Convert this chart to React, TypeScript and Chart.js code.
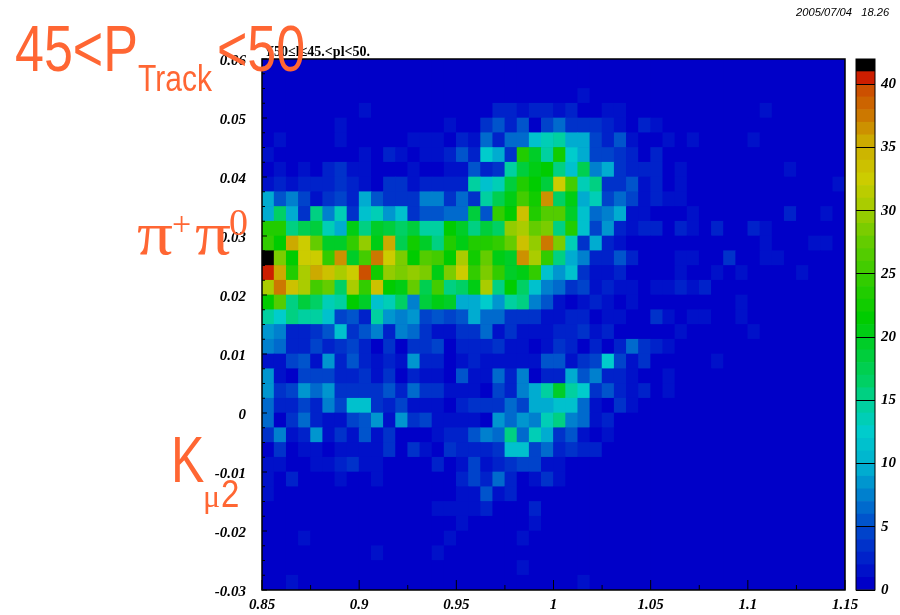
import React, { useEffect, useRef } from "react";
import { Chart, registerables } from "chart.js";

Chart.register(...registerables);

const Z = [0, 0, 0, 0, 0, 0, 0, 0, 0, 0, 0, 0, 0, 0, 0, 0];
const xBinCount = 48;
const xMin = 0.85;
const xMax = 1.15;
const yMin = -0.03;
const yMax = 0.06;
const zMax = 42;
const colorLevels = 42;

// Counts per cell, rows from the top of the plot (y = 0.06) to the bottom.
const cellRows: number[][] = [
  [...Z, ...Z, ...Z],
  [...Z, ...Z, ...Z],
  [0,0,0,0,0,0,0,0,0,0,0,0,0,0,0,0,0,0,0,0,0,0,0,0,0,0,1,0,0,0,0,0,0,0,0,0,0,0,0,0,0,0,0,0,0,0,0,0],
  [0,0,0,0,0,0,0,0,1,0,0,0,0,0,0,0,0,0,0,2,2,1,2,2,1,2,0,0,1,1,0,0,0,0,0,0,0,0,0,0,0,1,0,0,0,0,0,0],
  [0,0,0,0,0,0,1,0,0,0,0,0,0,0,0,1,0,0,3,5,2,5,0,4,6,3,3,3,2,1,0,2,1,0,0,0,0,0,0,0,0,0,0,0,0,0,0,0],
  [0,1,0,0,0,0,1,0,0,0,0,0,1,1,1,0,2,1,6,2,6,6,11,13,14,9,9,4,2,5,1,0,0,1,0,1,0,0,0,0,1,0,0,0,0,0,0,0],
  [1,0,0,0,0,0,0,0,1,0,2,1,0,1,1,2,5,2,12,9,3,23,19,14,22,12,9,4,4,3,2,0,2,0,0,0,0,0,0,0,0,0,0,0,0,0,0,0],
  [0,1,0,1,0,2,3,1,1,0,0,0,1,0,0,1,1,5,2,3,14,18,20,21,15,11,17,7,9,3,2,2,2,0,1,0,0,0,0,0,0,0,0,1,0,0,0,0],
  [1,2,1,2,2,2,3,2,1,0,3,3,1,2,2,2,2,14,11,13,18,23,21,18,32,25,13,15,3,3,5,1,2,0,1,0,0,0,0,0,0,0,0,0,0,0,0,1],
  [9,5,7,4,1,3,4,2,9,5,3,3,3,7,7,3,6,3,14,17,20,25,22,36,16,20,9,13,4,6,4,1,2,1,1,0,0,0,0,0,0,0,0,0,0,0,0,0],
  [9,16,9,3,15,7,13,3,11,13,8,11,3,5,5,6,6,18,5,24,21,33,23,26,26,19,11,6,7,9,1,1,0,0,0,1,0,0,0,0,0,0,0,2,0,0,1,0],
  [23,23,15,17,18,13,9,20,15,19,18,16,18,14,14,21,19,15,18,16,29,30,27,28,15,23,11,4,8,2,1,2,2,0,2,1,0,2,0,0,2,1,0,0,0,0,0,0],
  [24,21,35,32,27,19,19,24,29,20,35,17,22,19,15,23,20,23,23,24,27,33,29,37,28,13,3,9,2,1,0,0,0,0,0,0,0,0,0,0,0,1,0,0,0,1,1,0],
  [41,28,21,32,32,24,36,19,25,37,32,28,21,26,25,21,30,22,27,20,19,36,30,24,15,9,7,2,2,5,2,0,0,0,1,1,0,0,3,0,0,1,1,0,0,0,0,0],
  [40,35,23,30,35,33,30,32,39,22,29,28,29,28,20,28,32,24,28,24,19,20,24,11,8,11,3,1,1,2,0,0,0,0,1,0,0,1,0,1,0,0,0,0,1,0,0,0],
  [30,37,33,30,25,27,16,30,24,33,21,20,27,17,25,15,16,20,30,15,21,16,11,7,6,3,4,1,2,1,1,0,1,1,2,1,2,0,0,0,0,0,0,0,0,0,0,0],
  [21,26,15,18,16,13,14,21,19,11,13,16,7,18,20,19,9,9,12,8,14,15,7,5,1,0,1,2,1,0,1,0,0,0,0,0,0,0,0,1,0,0,0,0,0,0,0,0],
  [14,12,15,14,14,11,4,5,2,14,8,7,8,4,5,4,5,9,6,6,3,3,3,1,1,2,2,0,1,1,0,0,3,1,0,1,1,0,0,1,0,0,0,0,0,0,0,0],
  [8,7,2,2,3,5,11,3,5,7,2,7,6,3,1,1,3,3,6,1,3,1,1,1,2,2,3,1,2,0,0,0,0,0,1,0,0,0,0,0,1,0,0,0,0,0,0,0],
  [7,6,2,2,4,2,3,4,2,0,3,0,3,3,4,0,2,2,2,3,1,1,0,1,3,2,0,2,0,2,6,3,2,1,0,0,0,0,0,0,0,0,0,0,0,0,0,0],
  [1,1,4,5,1,8,2,5,2,1,2,1,8,2,2,0,1,2,1,1,1,1,1,5,5,1,3,4,12,4,1,3,0,0,0,0,0,1,0,0,0,0,0,0,0,0,0,0],
  [8,1,0,4,4,4,2,2,3,1,3,0,2,1,1,0,5,1,1,6,2,7,0,2,2,9,5,7,2,2,1,0,0,1,0,0,0,0,0,0,0,0,0,0,0,0,0,0],
  [8,3,4,8,6,8,3,3,3,3,5,2,6,3,3,1,1,1,0,4,2,7,9,14,19,14,12,3,5,2,1,2,0,1,0,0,0,0,0,0,0,0,0,0,0,0,0,0],
  [6,2,2,4,2,7,4,11,11,3,2,4,1,1,1,0,2,3,3,3,6,4,9,9,11,11,6,1,0,3,1,0,0,0,0,0,0,0,0,0,0,0,0,0,0,0,0,0],
  [6,0,3,6,2,1,1,4,5,8,1,8,3,4,1,1,1,1,0,8,6,8,7,13,15,7,6,1,2,0,0,0,0,0,0,0,0,0,0,0,0,0,0,0,0,0,0,0],
  [3,7,1,2,8,1,3,1,5,1,3,0,0,0,1,2,2,5,7,6,15,6,13,9,3,5,1,0,1,0,0,0,0,0,0,0,0,0,0,0,0,0,0,0,0,0,0,0],
  [0,3,0,1,1,0,1,1,1,1,3,0,3,1,0,3,2,2,2,3,11,11,4,6,2,3,2,2,0,0,0,0,0,0,0,0,0,0,0,0,0,0,0,0,0,0,0,0],
  [1,1,0,0,1,1,2,3,1,1,0,0,0,0,2,0,1,4,1,2,3,4,4,1,1,0,0,0,0,0,0,0,0,0,0,0,0,0,0,0,0,0,0,0,0,0,0,0],
  [1,0,2,0,0,0,1,0,0,1,0,0,0,0,0,0,2,4,2,6,2,0,1,3,1,0,0,0,0,0,0,0,0,0,0,0,0,0,0,0,0,0,0,0,0,0,0,0],
  [1,0,0,0,0,0,0,0,0,0,0,0,0,0,0,0,1,1,5,1,2,0,0,0,0,0,0,0,0,0,0,0,0,0,0,0,0,0,0,0,0,0,0,0,0,0,0,0],
  [0,0,0,0,0,0,0,0,0,0,0,0,0,0,1,1,1,1,2,0,0,0,2,0,0,0,0,0,0,0,0,0,0,0,0,0,0,0,0,0,0,0,0,0,0,0,0,0],
  [0,0,0,0,0,0,0,0,0,0,0,0,0,0,0,0,1,0,0,0,0,0,1,0,0,0,0,0,0,0,0,0,0,0,0,0,0,0,0,0,0,0,0,0,0,0,0,0],
  [0,0,0,1,0,0,0,0,0,0,0,0,0,0,0,1,0,0,0,0,0,1,0,0,0,0,0,0,0,0,0,0,0,0,0,0,0,0,0,0,0,0,0,0,0,0,0,0],
  [0,0,0,0,0,0,0,0,0,1,0,0,0,0,1,0,0,0,0,0,0,0,0,0,0,0,0,0,0,0,0,0,0,0,0,0,0,0,0,0,0,0,0,0,0,0,0,0],
  [0,0,0,0,0,0,0,0,0,0,0,0,0,0,0,0,0,0,0,0,0,1,0,0,0,0,0,0,0,0,0,0,0,0,0,0,0,0,0,0,0,0,0,0,0,0,0,0],
  [0,0,1,0,0,0,0,0,0,0,0,0,0,0,0,0,0,0,0,0,0,0,0,0,0,0,1,0,0,0,0,0,0,0,0,0,0,0,0,0,0,0,0,0,0,0,0,0],
];

// [level, r, g, b]
const paletteStops: number[][] = [
  [0, 0, 0, 200], [5, 0, 84, 204], [9, 0, 172, 208], [12, 0, 204, 204], [14, 0, 208, 160],
  [16, 0, 208, 100], [18, 0, 206, 60], [21, 0, 204, 0], [24, 50, 204, 0], [27, 100, 204, 0],
  [30, 170, 204, 0], [32, 204, 204, 0], [35, 204, 170, 0], [37, 204, 120, 0], [39, 204, 80, 0],
  [40, 204, 30, 0],
];

function levelColor(level: number): string {
  if (level >= colorLevels - 1) return "#000000";
  for (let i = 1; i < paletteStops.length; i++) {
    const a = paletteStops[i - 1];
    const b = paletteStops[i];
    if (level <= b[0]) {
      const t = (level - a[0]) / (b[0] - a[0]);
      const ch = (k: number) => Math.round(a[k] + (b[k] - a[k]) * t);
      return `rgb(${ch(1)},${ch(2)},${ch(3)})`;
    }
  }
  return "#cc1e00";
}

const tickFont = { family: "'Liberation Serif'", size: 15, weight: "bold", style: "italic" } as any;
const ORANGE = "#ff6633";

export default function App() {
  const mainRef = useRef<HTMLCanvasElement>(null);
  const barRef = useRef<HTMLCanvasElement>(null);

  useEffect(() => {
    const rowCount = cellRows.length;
    const dx = (xMax - xMin) / xBinCount;
    const dy = (yMax - yMin) / rowCount;
    const cells: any[] = [];
    const colors: string[] = [];
    cellRows.forEach((row, r) => {
      row.forEach((v, c) => {
        const lo = yMin + (rowCount - 1 - r) * dy;
        cells.push({ x: xMin + (c + 0.5) * dx, y: [lo, lo + dy] });
        colors.push(levelColor(v));
      });
    });

    const frameAndTicks = {
      id: "frameAndTicks",
      beforeDatasetsDraw(chart: any) {
        const { ctx, chartArea: a } = chart;
        ctx.save();
        ctx.fillStyle = levelColor(0);
        ctx.fillRect(a.left, a.top, a.right - a.left, a.bottom - a.top);
        ctx.restore();
      },
      afterDatasetsDraw(chart: any) {
        const { ctx, chartArea: a, scales } = chart;
        ctx.save();
        ctx.strokeStyle = "#000";
        ctx.lineWidth = 1;
        ctx.beginPath();
        for (let k = 0; k <= 12; k++) {
          const v = xMin + k * 0.025;
          const p = scales.x.getPixelForValue(v);
          const len = k % 2 === 0 ? 10 : 5;
          ctx.moveTo(p, a.bottom);
          ctx.lineTo(p, a.bottom - len);
        }
        for (let k = 0; k <= 36; k++) {
          const v = yMin + k * 0.0025;
          const p = scales.y.getPixelForValue(v);
          const len = k % 4 === 0 ? 5 : 3;
          ctx.moveTo(a.left, p);
          ctx.lineTo(a.left + len, p);
        }
        ctx.stroke();
        ctx.lineWidth = 1.5;
        ctx.strokeRect(a.left, a.top, a.right - a.left, a.bottom - a.top);
        ctx.restore();
      },
    };

    const main = new Chart(mainRef.current!, {
      type: "bar",
      data: {
        datasets: [
          {
            data: cells,
            backgroundColor: colors,
            borderWidth: 0,
            barPercentage: 1,
            categoryPercentage: 1,
            grouped: false,
          } as any,
        ],
      },
      options: {
        responsive: false,
        animation: false,
        layout: { padding: { top: 59, right: 55, left: 0, bottom: 0 } },
        plugins: { legend: { display: false }, tooltip: { enabled: false }, title: { display: false } },
        scales: {
          x: {
            type: "linear",
            min: xMin,
            max: xMax,
            offset: false,
            afterFit: (s: any) => { s.height = 25; },
            grid: { display: false, offset: false },
            border: { display: false },
            ticks: {
              stepSize: 0.05,
              maxRotation: 0,
              autoSkip: false,
              padding: -2,
              color: "#000",
              font: tickFont,
              callback: (v: any) => String(parseFloat(Number(v).toFixed(3))),
            },
          },
          y: {
            type: "linear",
            min: yMin,
            max: yMax,
            afterFit: (s: any) => { s.width = 262; },
            grid: { display: false },
            border: { display: false },
            ticks: {
              stepSize: 0.01,
              autoSkip: false,
              padding: 8,
              color: "#000",
              // A blank first line of 5px nudges each label 2.5px below its tick, as in the reference.
              font: { ...tickFont, lineHeight: "5px" },
              callback: (v: any) => ["", String(parseFloat(Number(v).toFixed(3)))],
            },
          },
        },
      } as any,
      plugins: [frameAndTicks],
    });

    const levels = Array.from({ length: colorLevels }, (_, i) => i);
    const barFrame = {
      id: "barFrame",
      afterDatasetsDraw(chart: any) {
        const { ctx, chartArea: a } = chart;
        ctx.save();
        ctx.strokeStyle = "#000";
        ctx.lineWidth = 1;
        ctx.strokeRect(a.left, a.top, a.right - a.left, a.bottom - a.top);
        ctx.restore();
      },
    };
    const bar = new Chart(barRef.current!, {
      type: "bar",
      data: {
        labels: ["z"],
        datasets: levels.map((l) => ({
          data: [[l, l + 1]],
          backgroundColor: levelColor(l),
          borderWidth: 0,
          barPercentage: 1,
          categoryPercentage: 1,
          grouped: false,
        })) as any,
      },
      options: {
        responsive: false,
        animation: false,
        layout: { padding: { top: 59, left: 6, right: 0, bottom: 25 } },
        plugins: { legend: { display: false }, tooltip: { enabled: false } },
        scales: {
          x: { display: false },
          y: {
            position: "right",
            min: 0,
            max: zMax,
            afterFit: (s: any) => { s.width = 25; },
            border: { display: false },
            grid: { z: 1, color: "#000", lineWidth: 1, drawTicks: false },
            ticks: {
              stepSize: 5,
              includeBounds: false,
              autoSkip: false,
              padding: 6,
              color: "#000",
              font: tickFont,
            },
          },
        },
      } as any,
      plugins: [barFrame],
    });

    return () => {
      main.destroy();
      bar.destroy();
    };
  }, []);

  const orange = (left: number, top: number, size: number, family: string, scaleY: number, scaleX = 1) =>
    ({
      position: "absolute",
      left,
      top,
      fontSize: size,
      fontFamily: family,
      color: ORANGE,
      lineHeight: 1,
      whiteSpace: "nowrap",
      transformOrigin: "left top",
      transform: `scale(${scaleX},${scaleY})`,
    }) as React.CSSProperties;

  const SANS = "'Liberation Sans'";
  const SERIF = "'Liberation Serif'";

  return (
    <div style={{ position: "absolute", left: 0, top: 0, width: 900, height: 615, overflow: "hidden", background: "#fff" }}>
      <canvas ref={mainRef} width={900} height={615} style={{ position: "absolute", left: 0, top: 0, width: 900, height: 615 }} />
      <canvas ref={barRef} width={50} height={615} style={{ position: "absolute", left: 850, top: 0, width: 50, height: 615 }} />
      <div style={{ position: "absolute", left: 796, top: 6, fontFamily: SANS, fontStyle: "italic", fontSize: 11.2, whiteSpace: "pre", color: "#000" }}>
        {"2005/07/04   18.26"}
      </div>
      <div style={{ position: "absolute", left: 264, top: 44, fontFamily: SERIF, fontWeight: "bold", fontSize: 14, whiteSpace: "nowrap", color: "#000" }}>
        {"Y50≤l≤45.<pl<50."}
      </div>
      <div style={orange(15, 16, 52, SANS, 1.24)}>{"45<P"}</div>
      <div style={orange(138, 60, 30, SANS, 1.25)}>{"Track"}</div>
      <div style={orange(217, 16, 52, SANS, 1.24)}>{"<50"}</div>
      <div style={orange(137, 202, 62, SERIF, 1, 1.15)}>{"π"}</div>
      <div style={orange(172, 207, 34, SERIF, 1)}>{"+"}</div>
      <div style={orange(195, 202, 62, SERIF, 1, 1.15)}>{"π"}</div>
      <div style={orange(229, 203, 38, SERIF, 1)}>{"0"}</div>
      <div style={orange(171, 428, 50, SANS, 1.28)}>{"K"}</div>
      <div style={orange(203, 480, 32, SERIF, 1)}>{"μ"}</div>
      <div style={orange(221, 473, 33, SANS, 1.2)}>{"2"}</div>
    </div>
  );
}
